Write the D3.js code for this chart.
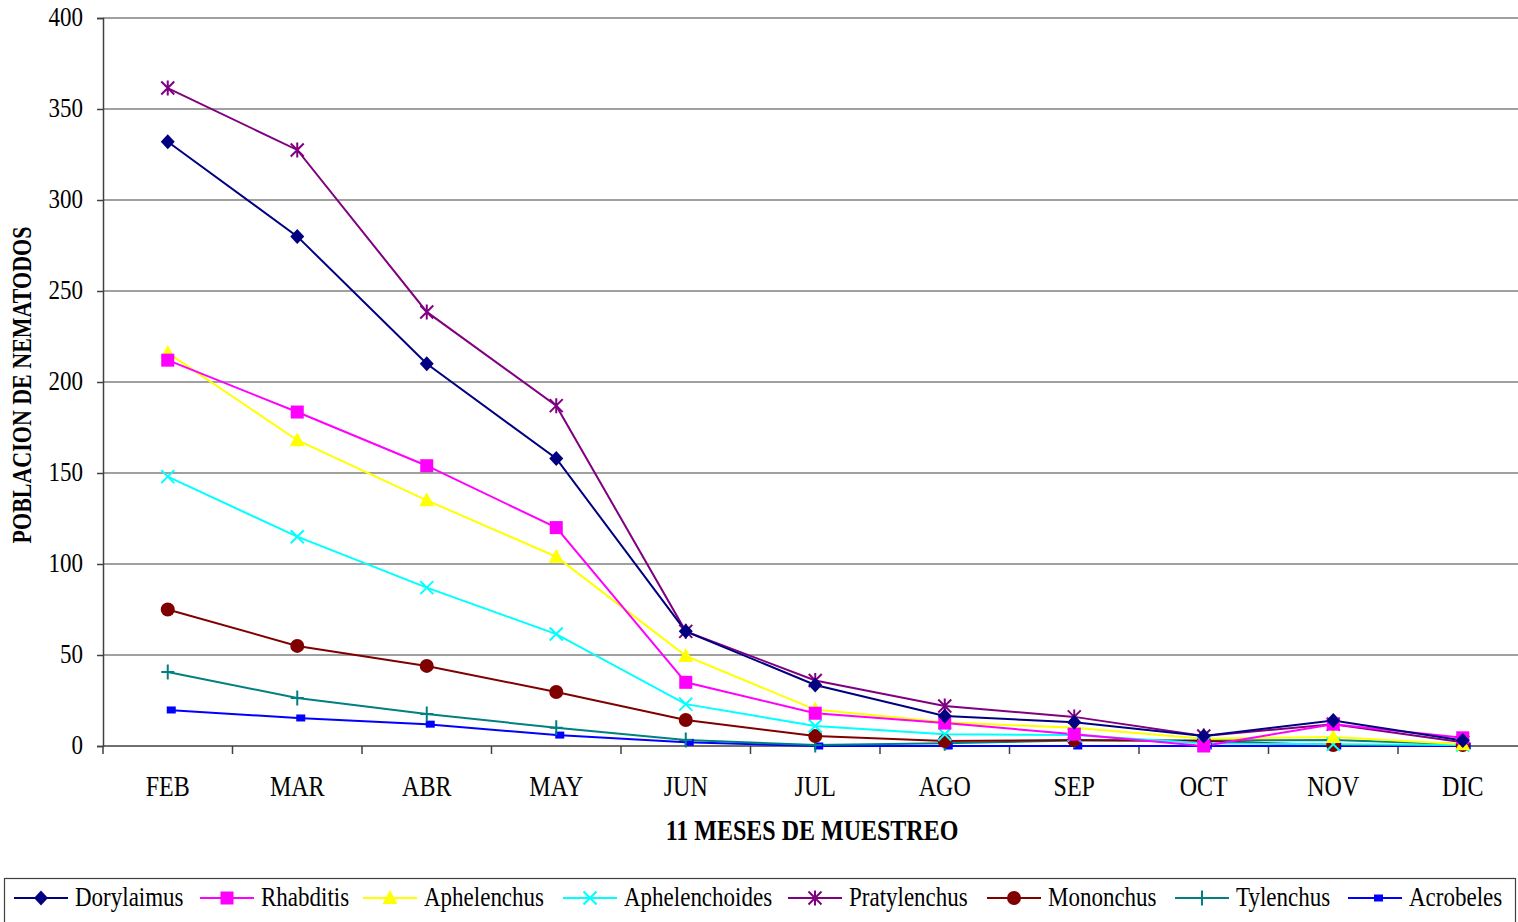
<!DOCTYPE html>
<html>
<head>
<meta charset="utf-8">
<script src="https://cdn.jsdelivr.net/npm/d3@7"></script>
<style>
  body { margin: 0; background: #fff; }
  text { font-family: "Liberation Serif", "Times New Roman", serif; fill: #000; }
</style>
</head>
<body>
<div id="chart"></div>
<script>
// months and species
var months = ["FEB", "MAR", "ABR", "MAY", "JUN", "JUL", "AGO", "SEP", "OCT", "NOV", "DIC"];
var yTicks = [0, 50, 100, 150, 200, 250, 300, 350, 400];

var dorylaimus     = [332, 280, 210, 158, 63, 33.5, 16.5, 13, 5.5, 14, 3];
var rhabditis      = [212, 183.5, 154, 120, 35, 18, 12.6, 6.5, 0, 12, 4.5];
var aphelenchus    = [216, 168, 135, 104, 49.5, 20, 13, 10, 4, 5, 1];
var aphelenchoides = [148, 115, 87, 61.5, 23, 11, 6.5, 6, 1.5, 1, 0.5];
var pratylenchus   = [361.5, 327.5, 238.5, 187, 63, 36, 22, 16, 5.5, 12, 2];
var mononchus      = [75, 55, 44, 29.7, 14.3, 5.5, 2.7, 3.3, 2.7, 0.5, 0.5];
var tylenchus      = [40.7, 26.4, 17.6, 10, 3.3, 0.5, 1.5, 3, 3, 3.3, 1];
var acrobeles      = [19.8, 15.4, 12, 6, 2, 0, 0, 0, 0, 0, 0];

var series = [
    { name: "Dorylaimus", values: dorylaimus, color: "#000080", shape: "diamond" },
    { name: "Rhabditis", values: rhabditis, color: "#ff00ff", shape: "square" },
    { name: "Aphelenchus", values: aphelenchus, color: "#ffff00", shape: "triangle" },
    { name: "Aphelenchoides", values: aphelenchoides, color: "#00ffff", shape: "x" },
    { name: "Pratylenchus", values: pratylenchus, color: "#800080", shape: "star" },
    { name: "Mononchus", values: mononchus, color: "#800000", shape: "circle" },
    { name: "Tylenchus", values: tylenchus, color: "#008080", shape: "plus" },
    { name: "Acrobeles", values: acrobeles, color: "#0000ff", shape: "smallsquare" }
];

var svgWidth = 1518;
var svgHeight = 922;
var margin = { top: 18, left: 103, bottom: 176 };
var plotWidth = 11 * 129.5;
var plotHeight = svgHeight - margin.top - margin.bottom;
var stretch = 1.2; // the text in the picture is a bit taller than normal

var svg = d3.select("#chart")
    .append("svg")
    .attr("width", svgWidth)
    .attr("height", svgHeight);

// text helper, baseline at (x, y), stretched vertically
function addText(parent, x, y, str, anchor, size, bold) {
    return parent.append("text")
        .attr("transform", `translate(${x}, ${y}) scale(1, ${stretch})`)
        .attr("text-anchor", anchor)
        .attr("font-size", size + "px")
        .attr("font-weight", bold ? "bold" : "normal")
        .text(str);
}

var chartGroup = svg.append("g")
    .attr("transform", `translate(${margin.left}, ${margin.top})`);

var xScale = d3.scaleBand()
    .domain(months)
    .range([0, plotWidth]);

var yScale = d3.scaleLinear()
    .domain([0, 400])
    .range([plotHeight, 0]);

// gridlines
chartGroup.selectAll(".grid")
    .data(yTicks.filter(d => d > 0))
    .enter()
    .append("line")
    .attr("x1", 0)
    .attr("x2", plotWidth)
    .attr("y1", d => yScale(d))
    .attr("y2", d => yScale(d))
    .attr("stroke", "#808080")
    .attr("stroke-width", 1.5);

// y axis (labels drawn separately)
var yAxis = chartGroup.append("g")
    .call(d3.axisLeft(yScale).tickValues(yTicks).tickSize(6).tickFormat(""));
yAxis.select(".domain").attr("stroke", "#404040").attr("stroke-width", 1.5);
yAxis.selectAll(".tick line").attr("stroke", "#404040").attr("stroke-width", 1.5);
yTicks.forEach(function(t) {
    addText(chartGroup, -20, yScale(t) + 8, t, "end", 23);
});

// x axis, ticks sit between the months
var xAxisGroup = chartGroup.append("g")
    .attr("transform", `translate(0, ${plotHeight})`);
xAxisGroup.append("line")
    .attr("x1", 0).attr("x2", plotWidth)
    .attr("stroke", "#404040").attr("stroke-width", 1.5);
xAxisGroup.selectAll(".xtick")
    .data(months)
    .enter()
    .append("line")
    .attr("x1", d => xScale(d))
    .attr("x2", d => xScale(d))
    .attr("y1", 0)
    .attr("y2", 8)
    .attr("stroke", "#404040")
    .attr("stroke-width", 1.5);
months.forEach(function(m) {
    addText(xAxisGroup, xScale(m) + xScale.bandwidth() / 2, 50, m, "middle", 24);
});

// axis titles
addText(svg, 812, 840, "11 MESES DE MUESTREO", "middle", 24, true);

svg.append("text")
    .attr("transform", `translate(31, 385) rotate(-90) scale(1, ${stretch})`)
    .attr("text-anchor", "middle")
    .attr("font-size", "22px")
    .attr("font-weight", "bold")
    .text("POBLACION DE NEMATODOS");

// marker drawing
function drawMarker(g, shape, color) {
    if (shape === "diamond") {
        g.append("path").attr("d", "M0,-7.5L7,0L0,7.5L-7,0Z").attr("fill", color);
    } else if (shape === "square") {
        g.append("rect").attr("x", -6.5).attr("y", -6.5).attr("width", 13).attr("height", 13).attr("fill", color);
    } else if (shape === "triangle") {
        g.append("path").attr("d", "M0,-8L7.5,6L-7.5,6Z").attr("fill", color);
    } else if (shape === "x") {
        g.append("path").attr("d", "M-6.5,-6.5L6.5,6.5M-6.5,6.5L6.5,-6.5").attr("stroke", color).attr("stroke-width", 2);
    } else if (shape === "star") {
        g.append("path").attr("d", "M-6.5,-6.5L6.5,6.5M-6.5,6.5L6.5,-6.5M0,-7.5L0,7.5").attr("stroke", color).attr("stroke-width", 2);
    } else if (shape === "circle") {
        g.append("circle").attr("r", 7).attr("fill", color);
    } else if (shape === "plus") {
        g.append("path").attr("d", "M-6.5,0L6.5,0M0,-7.5L0,7.5").attr("stroke", color).attr("stroke-width", 2);
    } else if (shape === "smallsquare") {
        g.append("rect").attr("x", -1).attr("y", -3.5).attr("width", 9).attr("height", 7).attr("fill", color);
    }
}

var line = d3.line()
    .x((d, i) => xScale(months[i]) + xScale.bandwidth() / 2)
    .y(d => yScale(d));

// lines, drawn in reverse so the first series sits on top
series.slice().reverse().forEach(function(s) {
    chartGroup.append("path")
        .datum(s.values)
        .attr("d", line)
        .attr("fill", "none")
        .attr("stroke", s.color)
        .attr("stroke-width", 2);
});

series.slice().reverse().forEach(function(s) {
    s.values.forEach(function(v, i) {
        var g = chartGroup.append("g")
            .attr("transform", `translate(${xScale(months[i]) + xScale.bandwidth() / 2}, ${yScale(v)})`);
        drawMarker(g, s.shape, s.color);
    });
});

// legend
svg.append("rect")
    .attr("x", 4.5)
    .attr("y", 878.5)
    .attr("width", 1511)
    .attr("height", 60)
    .attr("fill", "#fff")
    .attr("stroke", "#404040")
    .attr("stroke-width", 1.2);

var legendX = [14, 200, 363, 563, 788, 987, 1175, 1348];
series.forEach(function(s, i) {
    var g = svg.append("g").attr("transform", `translate(${legendX[i]}, 898)`);
    g.append("line")
        .attr("x1", 0).attr("x2", 54)
        .attr("stroke", s.color)
        .attr("stroke-width", 2);
    var m = g.append("g").attr("transform", "translate(27, 0)");
    drawMarker(m, s.shape, s.color);
    addText(g, 61, 8, s.name, "start", 23);
});
</script>
</body>
</html>
